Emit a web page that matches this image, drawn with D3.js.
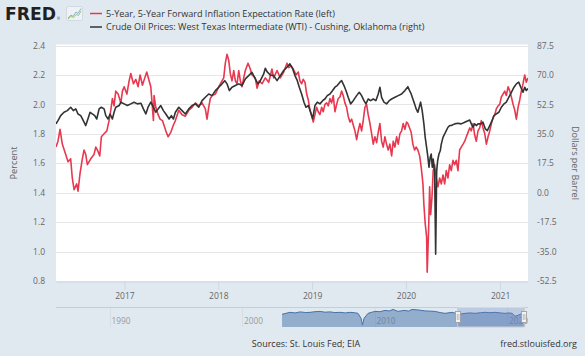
<!DOCTYPE html>
<html><head><meta charset="utf-8">
<script src="https://cdn.jsdelivr.net/npm/d3@7"></script>
<style>
body{margin:0;background:#e1e9f0;}
svg{display:block;font-family:"Open Sans",sans-serif;}
</style>
</head><body>
<svg id="c" width="585" height="356"></svg>
<script>
// ---------- DATA (time as decimal years) ----------
const seriesNames = [
  "5-Year, 5-Year Forward Inflation Expectation Rate (left)",
  "Crude Oil Prices: West Texas Intermediate (WTI) - Cushing, Oklahoma (right)"
];
const inflTime = [2016.273,2016.294,2016.316,2016.340,2016.376,2016.401,2016.429,2016.446,2016.465,2016.493,2016.507,2016.528,2016.553,2016.571,2016.589,2016.606,2016.642,2016.677,2016.696,2016.713,2016.738,2016.755,2016.784,2016.813,2016.837,2016.855,2016.872,2016.890,2016.908,2016.933,2016.962,2016.979,2016.997,2017.026,2017.050,2017.068,2017.096,2017.121,2017.146,2017.167,2017.192,2017.217,2017.238,2017.263,2017.281,2017.292,2017.309,2017.316,2017.334,2017.359,2017.380,2017.405,2017.441,2017.465,2017.494,2017.522,
2017.543,2017.579,2017.614,2017.649,2017.686,2017.721,2017.756,2017.792,2017.827,2017.862,2017.880,2017.898,2017.915,2017.934,2017.969,2018.005,2018.040,2018.058,2018.075,2018.093,2018.111,2018.128,2018.146,2018.165,2018.182,2018.200,2018.218,2018.235,2018.253,2018.271,2018.288,2018.317,2018.341,2018.359,2018.394,2018.413,2018.437,2018.466,2018.501,2018.537,2018.572,2018.590,2018.626,2018.661,2018.697,2018.732,2018.750,2018.778,
2018.799,2018.828,2018.852,2018.870,2018.888,2018.905,2018.924,2018.942,2018.959,2018.977,2018.995,2019.012,2019.030,2019.048,2019.065,2019.083,2019.101,2019.118,2019.136,2019.155,2019.172,2019.190,2019.208,2019.225,2019.243,2019.261,2019.278,2019.296,2019.314,2019.331,2019.349,2019.367,2019.384,2019.403,2019.421,2019.438,2019.456,2019.474,2019.491,2019.509,2019.527,2019.544,2019.562,2019.580,2019.597,2019.616,2019.634,2019.651,2019.669,2019.687,2019.704,2019.722,2019.740,2019.757,2019.775,2019.793,2019.810,2019.828,2019.847,2019.864,2019.882,2019.900,2019.917,2019.935,2019.953,2019.970,2019.988,2020.006,
2020.020,2020.038,2020.055,2020.073,2020.091,2020.108,2020.126,2020.145,2020.162,2020.180,2020.190,2020.204,2020.219,2020.225,2020.240,2020.251,2020.262,2020.276,2020.289,2020.304,2020.321,2020.339,2020.358,2020.375,2020.393,2020.411,2020.428,2020.446,2020.464,2020.481,2020.499,2020.517,2020.534,2020.552,2020.570,2020.587,2020.606,2020.624,2020.641,2020.659,2020.677,2020.694,2020.712,2020.730,2020.747,2020.765,2020.783,2020.800,2020.818,2020.837,2020.854,2020.872,2020.890,2020.907,2020.925,2020.943,2020.960,2020.978,2020.996,2021.013,2021.031,2021.049,2021.066,2021.085,2021.103,2021.120,2021.138,2021.156,2021.173,2021.191,2021.209,2021.226,2021.244,2021.262,2021.279,2021.297];
const inflRate = [1.71,1.75,1.83,1.73,1.66,1.61,1.63,1.50,1.42,1.46,1.41,1.53,1.63,1.69,1.66,1.59,1.63,1.66,1.71,1.69,1.65,1.78,1.80,1.82,1.89,1.96,2.04,1.99,2.09,2.07,2.01,2.09,2.12,2.07,2.16,2.21,2.14,2.17,2.12,2.20,2.13,2.18,2.22,2.16,2.12,2.03,1.89,2.06,1.98,1.93,1.90,1.89,1.82,1.78,1.81,1.86,
1.89,1.96,1.93,1.92,1.96,1.98,2.01,1.99,2.01,1.97,1.90,1.98,2.04,2.06,2.07,2.12,2.16,2.18,2.28,2.34,2.30,2.21,2.16,2.23,2.16,2.14,2.23,2.16,2.12,2.18,2.23,2.28,2.24,2.20,2.18,2.11,2.16,2.14,2.18,2.15,2.24,2.18,2.23,2.18,2.22,2.28,2.25,2.26,
2.24,2.20,2.22,2.16,2.14,2.17,2.15,2.07,2.03,1.96,1.92,1.88,1.93,1.98,1.95,1.93,1.98,1.95,2.00,2.01,1.99,2.04,2.01,2.06,1.95,2.00,2.04,2.05,2.09,2.06,2.01,1.98,1.92,1.88,1.90,1.86,1.82,1.76,1.82,1.87,1.82,1.89,1.98,2.00,1.93,1.87,1.80,1.73,1.78,1.74,1.81,1.87,1.75,1.71,1.78,1.73,1.69,1.73,1.65,1.75,1.71,1.78,1.73,1.80,1.82,1.87,1.83,1.88,
1.87,1.84,1.81,1.73,1.69,1.71,1.69,1.65,1.57,1.46,1.32,1.19,1.10,0.86,1.14,1.44,1.25,1.37,1.55,1.59,1.50,1.44,1.50,1.46,1.52,1.46,1.55,1.50,1.59,1.55,1.62,1.59,1.62,1.55,1.69,1.71,1.73,1.75,1.78,1.81,1.84,1.82,1.87,1.79,1.75,1.82,1.84,1.89,1.84,1.80,1.73,1.78,1.82,1.87,1.91,1.93,1.97,1.99,2.00,2.05,2.07,2.09,2.06,2.12,2.09,2.05,2.00,1.96,1.90,1.98,2.03,2.09,2.14,2.20,2.15,2.18];

const oilTime = [2016.273,2016.294,2016.323,2016.358,2016.393,2016.429,2016.457,2016.483,2016.507,2016.536,2016.571,2016.589,2016.606,2016.635,2016.659,2016.685,2016.706,2016.731,2016.755,2016.784,2016.802,2016.826,2016.848,2016.872,2016.890,2016.908,2016.944,2016.962,2016.997,2017.032,2017.068,2017.103,2017.138,2017.175,2017.202,2017.228,2017.252,2017.281,2017.309,2017.334,2017.359,2017.387,2017.415,2017.441,2017.476,2017.500,2017.522,
2017.543,2017.579,2017.614,2017.649,2017.686,2017.721,2017.756,2017.792,2017.827,2017.862,2017.898,2017.934,2017.969,2018.005,2018.040,2018.069,2018.093,2018.118,2018.146,2018.182,2018.218,2018.253,2018.288,2018.324,2018.359,2018.394,2018.423,2018.448,2018.484,2018.501,2018.519,2018.554,2018.590,2018.626,2018.661,2018.697,2018.732,2018.763,
2018.793,2018.817,2018.842,2018.863,2018.888,2018.913,2018.934,2018.959,2018.984,2019.006,2019.030,2019.055,2019.083,2019.112,2019.136,2019.161,2019.190,2019.218,2019.243,2019.267,2019.296,2019.314,2019.339,2019.360,2019.384,2019.410,2019.438,2019.474,2019.502,2019.527,2019.552,2019.573,2019.597,2019.623,2019.651,2019.679,2019.704,2019.722,2019.740,2019.765,2019.793,2019.821,2019.847,2019.882,2019.917,2019.953,2019.988,
2020.020,2020.038,2020.055,2020.073,2020.091,2020.108,2020.126,2020.155,2020.172,2020.190,2020.204,2020.219,2020.233,2020.244,2020.257,2020.268,2020.279,2020.289,2020.304,2020.315,2020.326,2020.336,2020.350,2020.364,2020.375,2020.393,2020.411,2020.428,2020.446,2020.464,2020.481,2020.517,2020.552,2020.587,2020.624,2020.659,2020.677,2020.694,2020.712,2020.730,2020.747,2020.765,2020.794,2020.818,2020.843,2020.864,2020.890,2020.914,2020.935,2020.960,2020.986,2021.013,2021.042,2021.066,2021.092,2021.120,2021.148,2021.173,2021.198,2021.220,2021.244,2021.262,2021.279,2021.297];
const oilPrice = [40.9,42.8,45.8,47.8,48.8,50.8,48.8,49.8,46.8,45.8,41.9,39.9,42.8,47.8,46.8,45.8,43.8,49.8,50.8,49.8,45.8,43.8,46.8,43.8,47.8,50.8,51.8,53.8,52.8,51.8,52.8,53.8,52.8,53.2,49.8,46.8,50.8,53.8,50.8,47.8,49.8,51.8,48.8,46.8,43.8,45.8,43.8,
47.8,50.8,48.8,46.8,49.8,51.8,52.8,50.8,54.7,56.7,58.7,57.7,60.7,62.7,64.7,66.6,64.7,60.7,62.7,63.7,64.7,63.7,67.7,69.6,71.6,67.7,64.7,66.6,70.6,74.0,72.0,70.0,69.6,66.6,69.6,72.6,74.6,76.6,
73.6,69.6,66.6,62.7,58.7,53.8,50.8,51.8,47.8,44.0,51.8,53.8,52.8,54.7,55.7,57.7,58.7,60.7,62.7,63.7,65.7,66.6,63.7,60.7,56.7,52.8,54.7,57.7,59.7,57.7,54.7,52.8,55.7,54.7,55.7,54.7,58.7,62.7,56.7,53.8,52.8,54.7,55.7,56.7,57.7,58.7,60.7,
63.0,60.7,58.7,55.7,52.8,49.8,47.8,53.8,48.8,40.9,32.9,27.0,21.0,15.1,21.0,23.0,15.1,20.0,13.0,-36.6,13.0,19.0,23.0,24.9,28.9,32.9,34.9,36.9,38.9,39.9,39.9,40.9,41.3,40.9,41.9,42.8,43.2,40.9,38.9,40.9,39.9,40.9,40.9,41.9,37.9,36.9,39.9,42.8,45.8,46.8,47.8,50.8,52.8,53.8,56.7,59.7,62.7,64.7,65.7,62.7,59.7,62.7,60.7,62.0];

// navigator (full history of first series, grouped)
const navRange = [1985.96, 2021.58];
const navTime = [2003.02,2003.62,2004.00,2004.38,2004.80,2005.13,2005.50,2005.89,2006.25,2006.64,2007.00,2007.40,2007.80,2008.15,2008.50,2008.75,2008.98,2009.09,2009.21,2009.51,2009.80,2010.04,2010.40,2010.79,2011.10,2011.40,2011.77,2012.05,2012.30,2012.55,2012.83,2013.28,2013.81,2014.20,2014.57,2014.95,2015.32,2015.85,2016.10,2016.38,2016.83,2017.20,2017.58,2018.00,2018.34,2018.70,2019.09,2019.50,2019.85,2020.15,2020.38,2020.60,2020.83,2021.10,2021.36];
const navValue = [2.26,2.53,2.45,2.59,2.50,2.53,2.62,2.66,2.55,2.59,2.50,2.53,2.45,2.53,2.48,2.39,1.72,0.77,1.72,2.39,2.55,2.66,2.62,2.80,2.72,2.93,2.66,2.75,2.80,2.70,2.93,2.86,2.73,2.70,2.66,2.50,2.39,2.53,2.40,2.26,2.39,2.45,2.39,2.48,2.53,2.48,2.53,2.45,2.39,2.45,2.39,1.99,2.12,2.35,2.53];
const navDomainY = [0.5, 3.2];

const leftTicks  = [0.8,1.0,1.2,1.4,1.6,1.8,2.0,2.2,2.4];
const rightTicks = [-52.5,-35.0,-17.5,0.0,17.5,35.0,52.5,70.0,87.5];
const yearTicks  = [2017,2018,2019,2020,2021];
const navYearTicks = [1990,2000,2010,2020];
const axisTitles = {left:"Percent", right:"Dollars per Barrel"};
const footer = {source:"Sources: St. Louis Fed; EIA", site:"fred.stlouisfed.org"};
const colors = ["#e8384f","#333333"];

// ---------- helpers ----------
const toDate = t => { const y = Math.floor(t); const s = Date.UTC(y,0,1), e = Date.UTC(y+1,0,1); return new Date(s + (t-y)*(e-s)); };
const FONT = '"Open Sans", sans-serif';

const svg = d3.select("#c");
const W = 585, H = 356;
const P = {l:56, r:528, t:45.5, b:281};

svg.append("rect").attr("width",W).attr("height",H).attr("fill","#e1e9f0");
svg.append("rect").attr("x",P.l).attr("y",44.5).attr("width",P.r-P.l).attr("height",P.b-44.5).attr("fill","#ffffff");

const allT = inflTime.concat(oilTime);
const x = d3.scaleUtc().domain(d3.extent(allT).map(toDate)).range([P.l,P.r]);
const yL = d3.scaleLinear().domain([leftTicks[0], leftTicks[leftTicks.length-1]]).range([P.b,P.t]);
const yR = d3.scaleLinear().domain([rightTicks[0], rightTicks[rightTicks.length-1]]).range([P.b,P.t]);

// gridlines
svg.append("g").selectAll("line").data(leftTicks).join("line")
  .attr("x1",P.l).attr("x2",P.r)
  .attr("y1",d=>Math.round(yL(d))+0.5).attr("y2",d=>Math.round(yL(d))+0.5)
  .attr("stroke","#e6e6e6").attr("stroke-width",1);

// left axis
const gL = svg.append("g").attr("transform",`translate(${P.l},0)`)
  .call(d3.axisLeft(yL).tickValues(leftTicks).tickSize(0).tickPadding(11).tickFormat(d=>d.toFixed(1)));
gL.select(".domain").remove();
gL.attr("font-family",FONT).attr("font-size",8.5);
gL.selectAll("text").attr("fill","#666");

// right axis
const gR = svg.append("g").attr("transform",`translate(${P.r},0)`)
  .call(d3.axisRight(yR).tickValues(rightTicks).tickSize(0).tickPadding(9).tickFormat(d=>d.toFixed(1)));
gR.select(".domain").remove();
gR.attr("font-family",FONT).attr("font-size",8.5);
gR.selectAll("text").attr("fill","#666");

// x axis
const gX = svg.append("g").attr("transform",`translate(0,${P.b+0.5})`)
  .call(d3.axisBottom(x).tickValues(yearTicks.map(y=>new Date(Date.UTC(y,0,1)))).tickSize(8).tickSizeOuter(0).tickPadding(3).tickFormat(d3.utcFormat("%Y")));
gX.attr("font-family",FONT).attr("font-size",8.5);
gX.select(".domain").attr("stroke","#ccd6eb");
gX.selectAll(".tick line").attr("stroke","#ccd6eb");
gX.selectAll("text").attr("fill","#666");

// axis titles
svg.append("text").attr("transform","translate(14,163) rotate(-90)").attr("text-anchor","middle").attr("dy","0.35em")
  .attr("font-family",FONT).attr("font-size",9.2).attr("fill","#666").text(axisTitles.left);
svg.append("text").attr("transform","translate(575,163) rotate(90)").attr("text-anchor","middle").attr("dy","0.35em")
  .attr("font-family",FONT).attr("font-size",9).attr("fill","#666").text(axisTitles.right);

// lines
svg.append("clipPath").attr("id","clip").append("rect").attr("x",P.l).attr("y",P.t-5).attr("width",P.r-P.l).attr("height",P.b-P.t+5);
const lineL = d3.line().x((d,i)=>x(toDate(inflTime[i]))).y(d=>yL(d));
const lineR = d3.line().x((d,i)=>x(toDate(oilTime[i]))).y(d=>yR(d));
const gLines = svg.append("g").attr("clip-path","url(#clip)");
gLines.append("path").datum(inflRate).attr("d",lineL).attr("fill","none").attr("stroke",colors[0]).attr("stroke-width",1.6).attr("stroke-linejoin","round");
gLines.append("path").datum(oilPrice).attr("d",lineR).attr("fill","none").attr("stroke",colors[1]).attr("stroke-width",1.6).attr("stroke-linejoin","round");

// header: logo
const logo = svg.append("g");
logo.append("text").attr("x",5).attr("y",19.5).attr("font-family","'DejaVu Sans', sans-serif").attr("font-weight",900)
  .attr("font-size",17).attr("fill","#231f20").attr("textLength",51).attr("lengthAdjust","spacingAndGlyphs").text("FRED");
logo.append("text").attr("x",57).attr("y",20).attr("font-size",3.5).attr("fill","#231f20").text("®");
logo.append("rect").attr("x",66.5).attr("y",6.5).attr("width",16).attr("height",14).attr("rx",1.5).attr("fill","#eef2f5").attr("stroke","#d3dbe2");
logo.append("path").attr("d","M68,18 L71,15 L73,16.5 L76,12 L78,13.5 L81,8.5").attr("fill","none").attr("stroke","#7fb2de").attr("stroke-width",1);
logo.append("path").attr("d","M68,19 L71,16.5 L73.5,17.5 L76,14.5 L78.5,15.5 L81,11").attr("fill","none").attr("stroke","#9cc96b").attr("stroke-width",1);

// legend
const leg = svg.append("g");
seriesNames.forEach((name,i)=>{
  const yy = 13.5 + i*13.5;
  leg.append("line").attr("x1",90).attr("x2",102).attr("y1",yy).attr("y2",yy).attr("stroke",colors[i]).attr("stroke-width",1.5);
  leg.append("text").attr("x",106).attr("y",yy).attr("dy","0.35em").attr("font-family",FONT).attr("font-size",9.1)
    .attr("fill","#333").text(name);
});

// navigator
const NT = 307.5, NB = 327;
const xN = d3.scaleUtc().domain(navRange.map(toDate)).range([P.l,P.r]);
const yN = d3.scaleLinear().domain(navDomainY).range([NB,NT]);
const gN = svg.append("g");
gN.selectAll("line.g").data(navYearTicks).join("line").attr("class","g")
  .attr("x1",d=>Math.round(xN(new Date(Date.UTC(d,0,1))))+0.5).attr("x2",d=>Math.round(xN(new Date(Date.UTC(d,0,1))))+0.5)
  .attr("y1",NT).attr("y2",NB).attr("stroke","#d8dde3");
gN.selectAll("text").data(navYearTicks).join("text")
  .attr("x",d=>xN(new Date(Date.UTC(d,0,1)))+2).attr("y",323.5)
  .attr("font-family",FONT).attr("font-size",8.3).attr("fill","#999").text(d=>d);
const navArea = d3.area().x((d,i)=>xN(toDate(navTime[i]))).y0(NB).y1(d=>yN(d));
const navLine = d3.line().x((d,i)=>xN(toDate(navTime[i]))).y(d=>yN(d));
gN.append("path").datum(navValue).attr("d",navArea).attr("fill","#4572a7").attr("fill-opacity",0.5);
gN.append("path").datum(navValue).attr("d",navLine).attr("fill","none").attr("stroke","#4572a7").attr("stroke-width",1);
const m0 = xN(x.domain()[0]), m1 = xN(x.domain()[1]);
gN.append("rect").attr("x",m0).attr("y",NT).attr("width",m1-m0).attr("height",NB-NT).attr("fill","rgba(102,133,194,0.3)");
gN.append("path").attr("d",`M${P.l},${NT} L${m0},${NT} L${m0},${NB} L${m1},${NB} L${m1},${NT} L${P.r},${NT}`)
  .attr("fill","none").attr("stroke","#cccccc").attr("stroke-width",1);
[m0,m1].forEach(mx=>{
  const h = gN.append("g").attr("transform",`translate(${Math.round(mx)},${317})`);
  h.append("rect").attr("x",-2.5).attr("y",-5.5).attr("width",5).attr("height",11).attr("fill","#f2f2f2").attr("stroke","#999").attr("stroke-width",0.8);
  h.append("path").attr("d","M-0.7,-3 L-0.7,3 M0.9,-3 L0.9,3").attr("stroke","#999").attr("stroke-width",0.6);
});

// footer
svg.append("text").attr("x",306).attr("y",346.5).attr("text-anchor","middle").attr("font-family",FONT).attr("font-size",9)
  .attr("fill","#333").text(footer.source);
svg.append("text").attr("x",577).attr("y",346.5).attr("text-anchor","end").attr("font-family",FONT).attr("font-size",9)
  .attr("fill","#333").text(footer.site);
</script>
</body></html>
